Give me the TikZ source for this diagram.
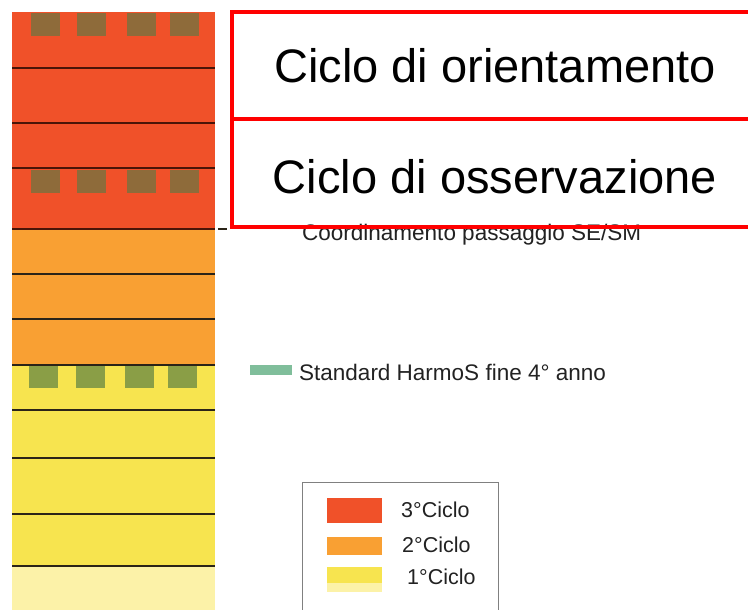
\documentclass[tikz,border=0pt]{standalone}
\usepackage{fontspec}
\setmainfont{Liberation Sans}
\definecolor{cthree}{HTML}{F05129}
\definecolor{ctwo}{HTML}{F9A033}
\definecolor{cone}{HTML}{F7E44F}
\definecolor{czero}{HTML}{FCF2A8}
\definecolor{brownsq}{HTML}{8E6B3A}
\definecolor{greensq}{HTML}{8A9E46}
\definecolor{stdgreen}{HTML}{80BE9B}
\definecolor{redline}{HTML}{4A1508}
\definecolor{darkline}{HTML}{2B2418}
\definecolor{txt}{HTML}{222222}
\begin{document}
\begin{tikzpicture}[x=1pt,y=-1pt,
  sep/.style={line width=2pt},
  redbox/.style={draw=red, line width=4pt, minimum width=526pt, inner sep=0pt, font=\fontsize{47}{50}\selectfont, text=black},
  smalltxt/.style={font=\fontsize{22.5}{25}\selectfont, text=txt, inner sep=0pt},
  legtxt/.style={font=\fontsize{21.5}{24}\selectfont, text=txt, inner sep=0pt, anchor=base west},
  sq/.style={inner sep=0pt, minimum width=29pt, minimum height=23pt, anchor=north west}]
\clip (0,0) rectangle (748,610);
\fill[white] (0,0) rectangle (748,610);
% column
\fill[cthree] (12,12) rectangle (215,229);
\fill[ctwo] (12,229) rectangle (215,365);
\fill[cone] (12,365) rectangle (215,566);
\fill[czero] (12,566) rectangle (215,610);
% squares
\foreach \x/\n in {31/a,77/b,127/c,170/d}{
  \node[sq, fill=brownsq] (t\n) at (\x,13) {};
  \node[sq, fill=brownsq] (m\n) at (\x,170) {};
}
\foreach \x/\n in {29/a,76/b,125/c,168/d}{
  \node[sq, fill=greensq, minimum height=22pt] (g\n) at (\x,366) {};
}
% separators
\foreach \y in {68,123,168,229}{\draw[sep, redline] (12,\y) -- (215,\y);}
\foreach \y in {274,319,365,410,458,514,566}{\draw[sep, darkline] (12,\y) -- (215,\y);}
\coordinate (d1) at (218,229);
\coordinate (d2) at (227,229);
\draw[line width=1.5pt, darkline] (d1) -- (d2);
% texts
\node[smalltxt, anchor=base west] (coord) at (302,240) {Coordinamento passaggio SE/SM};
\node[inner sep=0pt, minimum width=42pt, minimum height=10pt, fill=stdgreen, anchor=north west] (stdbar) at (250,365) {};
\node[smalltxt, anchor=base west] (std) at (299,380) {Standard HarmoS fine 4° anno};
% red boxes
\node[redbox, minimum height=107pt] (orient) at (495,65.5) {Ciclo di orientamento};
\node[redbox, minimum height=108pt, text height=41pt, text depth=0pt] (osserv) at (495,173) {Ciclo di osservazione};
% legend
\node[draw=gray, line width=1pt, inner sep=0pt, minimum width=196pt, minimum height=140pt, anchor=north west] (legend) at (302,482) {};
\node[inner sep=0pt, minimum width=55pt, minimum height=25pt, fill=cthree, anchor=north west] (s3) at (327,498) {};
\node[inner sep=0pt, minimum width=55pt, minimum height=18pt, fill=ctwo, anchor=north west] (s2) at (327,537) {};
\node[inner sep=0pt, minimum width=55pt, minimum height=16pt, fill=cone, anchor=north west] (s1) at (327,567) {};
\node[inner sep=0pt, minimum width=55pt, minimum height=9pt, fill=czero, anchor=north west] (s0) at (327,583) {};
\node[legtxt] (l3) at (401,517) {3°Ciclo};
\node[legtxt] (l2) at (402,552) {2°Ciclo};
\node[legtxt] (l1) at (407,584) {1°Ciclo};
\end{tikzpicture}
\end{document}
